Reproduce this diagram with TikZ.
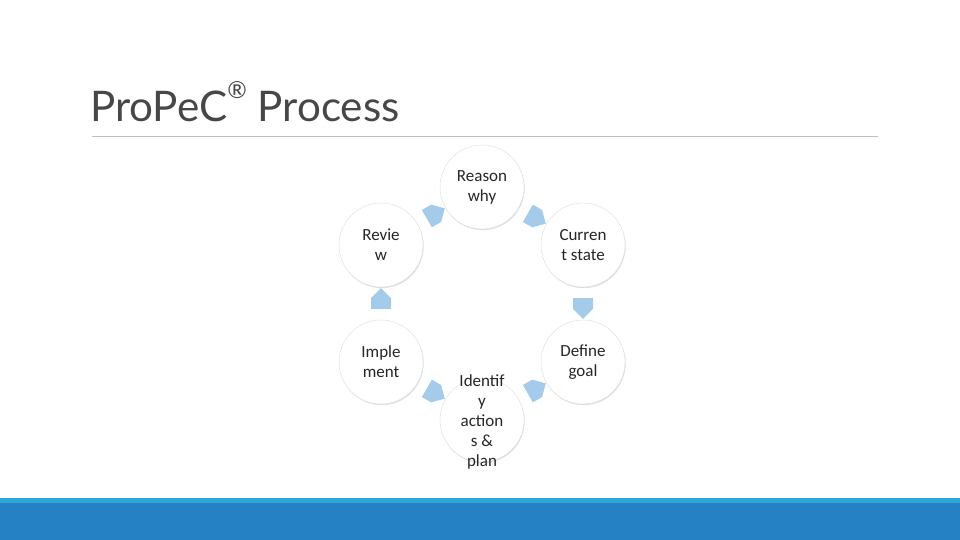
\documentclass[tikz,border=0pt]{standalone}
\usepackage{fontspec}
\setmainfont{Carlito}
\newfontfamily\titlefont{Lato}
\usetikzlibrary{shapes.arrows,shadows}
\definecolor{stepblue}{HTML}{A5CBEA}
\definecolor{barlight}{HTML}{2AA6D8}
\definecolor{bardark}{HTML}{2681C4}
\begin{document}
\begin{tikzpicture}[x=0.03cm, y=-0.03cm,
    stepnode/.style={circle, draw=black!12, fill=white, minimum size=2.52cm, inner sep=0pt,
      drop shadow={opacity=0.25, shadow xshift=0.6pt, shadow yshift=-1pt}},
    steptext/.style={align=center, inner sep=0pt, font=\fontsize{14.5pt}{17pt}\selectfont, text=black!85},
    flow/.style={single arrow, single arrow head extend=0pt, fill=stepblue, draw=none,
      minimum height=0.62cm, minimum width=0.6cm, inner sep=0pt, shape border uses incircle, sloped}]
    \useasboundingbox (0,0) rectangle (960,540);
    % title and rule
    \node[anchor=base west, inner sep=0pt, text=black!72, font=\titlefont\fontsize{36pt}{40pt}\selectfont] (title) at (90,122) {ProPeC\raisebox{0.55em}{\fontsize{20pt}{20pt}\selectfont\textregistered} Process};
    \draw[black!25, line width=0.6pt] (92,136) -- (878,136);

    % bottom bars
    \fill[barlight] (0,498) rectangle (960,503);
    \fill[bardark] (0,503) rectangle (960,540);

    % cycle
    \node[stepnode] (reason) at (482,187) {};
    \node[stepnode] (current) at (583,245) {};
    \node[stepnode] (goal) at (583,362) {};
    \node[stepnode] (identify) at (482,420) {};
    \node[stepnode] (implement) at (381,362) {};
    \node[stepnode] (review) at (381,245) {};
    \node[steptext] (reasontext) at (reason) {Reason\\why};
    \node[steptext] (currenttext) at (current) {Curren\\t state};
    \node[steptext] (goaltext) at (goal) {Define\\goal};
    \node[steptext] (identifytext) at (482,422) {Identif\\y\\action\\s \&\\plan};
    \node[steptext] (implementtext) at (implement) {Imple\\ment};
    \node[steptext] (reviewtext) at (review) {Revie\\w};

    % arrows
    \path (reason) -- node[flow] {} (current);
    \path (current) -- node[flow] {} (goal);
    \path (goal) -- node[flow] {} (identify);
    \path (identify) -- node[flow] {} (implement);
    \path (implement) -- node[flow] {} (review);
    \path (review) -- node[flow] {} (reason);
\end{tikzpicture}
\end{document}
